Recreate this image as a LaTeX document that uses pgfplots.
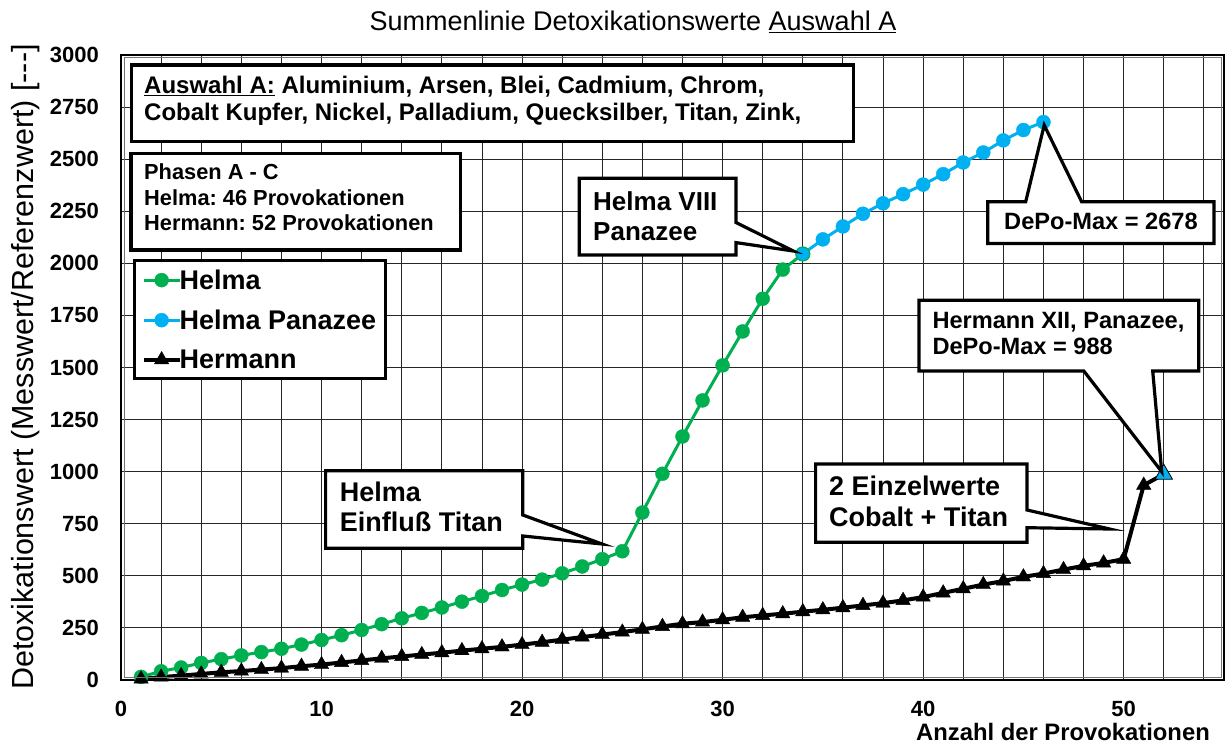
\documentclass[border=0pt]{standalone}
\usepackage{fontspec}
\setmainfont{Liberation Sans}
\usepackage{pgfplots}
\usepackage{pgfplotstable}
\pgfplotsset{compat=1.18}
\definecolor{hgreen}{HTML}{00B050}
\definecolor{hblue}{HTML}{00B0F0}
\frenchspacing

\pgfplotstableread{
x y
1 15
2 42
3 60
4 82
5 100
6 118
7 134
8 150
9 170
10 192
11 215
12 240
13 268
14 296
15 322
16 348
17 376
18 403
19 432
20 458
21 482
22 512
23 545
24 580
25 618
26 804
27 990
28 1169
29 1342
30 1510
31 1673
32 1830
33 1970
34 2045
}\helma

\pgfplotstableread{
x y
34 2045
35 2115
36 2177
37 2238
38 2288
39 2332
40 2378
41 2428
42 2484
43 2532
44 2590
45 2640
46 2678
}\panazee

\pgfplotstableread{
x y
1 5
2 14
3 21
4 29
5 37
6 43
7 50
8 57
9 66
10 74
11 84
12 94
13 104
14 113
15 122
16 131
17 141
18 150
19 159
20 170
21 181
22 194
23 206
24 218
25 230
26 243
27 257
28 270
29 278
30 289
31 301
32 310
33 318
34 328
35 337
36 347
37 358
38 369
39 382
40 398
41 418
42 438
43 458
44 475
45 495
46 511
47 530
48 548
49 562
50 580
51 935
52 988
}\hermann

\begin{document}
\begin{tikzpicture}[x=1pt,y=1pt]
\useasboundingbox (0,0) rectangle (1225,745);
\begin{axis}[
  at={(121pt,65pt)}, anchor=south west,
  width=1103pt, height=625pt, scale only axis,
  xmin=0, xmax=55, ymin=0, ymax=3000,
  xtick={0,10,...,50}, minor xtick={2,4,...,54},
  ytick={0,250,...,3000},
  grid=both,
  major grid style={black!85, line width=0.9pt},
  minor grid style={black!85, line width=0.9pt},
  major tick length=0pt, minor tick length=0pt,
  axis line style={line width=1.6pt},
  /pgf/number format/assume math mode=true,
  /pgf/number format/1000 sep={},
  tick label style={font=\fontsize{22}{26}\selectfont\bfseries},
  yticklabel style={anchor=east, inner sep=0pt, xshift=-22pt},
  xticklabel style={anchor=north, inner sep=0pt, yshift=-21pt},
  clip=false,
  legend cell align=left,
  legend image code/.code={\draw[mark repeat=2,mark phase=2] plot coordinates {(0pt,0pt)(18pt,0pt)(36pt,0pt)};},
  legend style={at={(0.0109,0.6736)}, anchor=north west, draw=black, line width=3.2pt,
    font=\fontsize{27}{30}\selectfont\bfseries, inner xsep=7pt, inner ysep=7pt,
    row sep=15pt, /tikz/every odd column/.append style={column sep=-4pt}},
]
\addplot[hgreen, line width=3pt, mark=*, mark size=7pt, mark options={draw=hgreen, fill=hgreen, line width=0.4pt}] table[x=x,y=y] {\helma};
\addlegendentry{Helma}
\addplot[hblue, line width=3pt, mark=*, mark size=7pt, mark options={draw=hblue, fill=hblue, line width=0.4pt}] table[x=x,y=y] {\panazee};
\addlegendentry{Helma Panazee}
\addplot[black, line width=4pt, mark=triangle*, mark size=8.3pt, mark options={fill=black, line width=0.4pt}] table[x=x,y=y] {\hermann};
\addlegendentry{Hermann}
\addplot[only marks, mark=*, mark size=7pt, mark options={draw=hgreen, fill=hblue, line width=1.2pt}, forget plot] coordinates {(34,2045)};
\addplot[only marks, mark=triangle*, mark size=10pt, mark options={draw=black, fill=hblue, line width=0.8pt}, forget plot] coordinates {(52,988)};
\end{axis}

\begin{scope}[x=1pt, y=-1pt, yshift=745pt, line join=miter]
% inner frame line
\draw[black!55, line width=1pt] (124,58) rectangle (1221,677);
% title
\node[anchor=base, font=\fontsize{27}{30}\selectfont] at (633,31) {Summenlinie Detoxikationswerte \underline{Auswahl A}};
% y label
\node[rotate=90, anchor=base, font=\fontsize{30.5}{33}\selectfont] at (33,367) {Detoxikationswert (Messwert/Referenzwert) [-{}-{}-]};
% x label
\node[anchor=base east, font=\fontsize{23.8}{27}\selectfont\bfseries, inner sep=0pt] at (1210,740) {Anzahl der Provokationen};

% box 1
\draw[line width=3.2pt, fill=white] (131.7,65) rectangle (853.5,141.7);
\node[anchor=base west, inner sep=0pt, font=\fontsize{24}{28}\selectfont\bfseries] at (144,93.3) {\underline{Auswahl A:} Aluminium, Arsen, Blei, Cadmium, Chrom,};
\node[anchor=base west, inner sep=0pt, font=\fontsize{24}{28}\selectfont\bfseries] at (144,121) {Cobalt Kupfer, Nickel, Palladium, Quecksilber, Titan, Zink,};

% box 2
\draw[line width=3.2pt, fill=white] (131,153.3) rectangle (460.7,250);
\node[anchor=base west, inner sep=0pt, font=\fontsize{21.8}{24}\selectfont\bfseries] at (144,179.3) {Phasen A - C};
\node[anchor=base west, inner sep=0pt, font=\fontsize{21.8}{24}\selectfont\bfseries] at (144,205.7) {Helma: 46 Provokationen};
\node[anchor=base west, inner sep=0pt, font=\fontsize{21.8}{24}\selectfont\bfseries] at (144,231) {Hermann: 52 Provokationen};

% Helma Einfluss Titan
\draw[line width=3.2pt, fill=white] (325.6,470.7) -- (522.8,470.7) -- (522.8,515) -- (602,544) -- (522.8,536) -- (522.8,548.3) -- (325.6,548.3) -- cycle;
\node[anchor=base west, inner sep=0pt, font=\fontsize{27}{30}\selectfont\bfseries] at (339.6,501.7) {Helma};
\node[anchor=base west, inner sep=0pt, font=\fontsize{27}{30}\selectfont\bfseries] at (339.6,531.7) {Einfluß Titan};

% Helma VIII Panazee
\draw[line width=3.2pt, fill=white] (579.3,178.2) -- (736,178.2) -- (736,222.5) -- (793.2,251) -- (736,242.6) -- (736,255) -- (579.3,255) -- cycle;
\node[anchor=base west, inner sep=0pt, font=\fontsize{26}{30}\selectfont\bfseries] at (593,210.7) {Helma VIII};
\node[anchor=base west, inner sep=0pt, font=\fontsize{26}{30}\selectfont\bfseries] at (593,241) {Panazee};

% DePo-Max 2678
\draw[line width=3.2pt, fill=white] (987.8,201.7) -- (1025.7,201.7) -- (1044.2,125.2) -- (1081.6,201.7) -- (1214,201.7) -- (1214,243.6) -- (987.8,243.6) -- cycle;
\node[anchor=base west, inner sep=0pt, font=\fontsize{23.6}{26}\selectfont\bfseries] at (1004,229.2) {DePo-Max = 2678};

% Hermann XII
\draw[line width=3.2pt, fill=white] (919,300.3) -- (1198.7,300.3) -- (1198.7,371) -- (1152.7,371) -- (1161.7,471.7) -- (1083.8,371) -- (919,371) -- cycle;
\node[anchor=base west, inner sep=0pt, font=\fontsize{23.6}{26}\selectfont\bfseries] at (932.3,328.2) {Hermann XII, Panazee,};
\node[anchor=base west, inner sep=0pt, font=\fontsize{23.6}{26}\selectfont\bfseries] at (932.3,355) {DePo-Max = 988};

% 2 Einzelwerte
\draw[line width=3.2pt, fill=white] (815.6,464) -- (1027,464) -- (1027,510) -- (1109.6,529) -- (1027,527.7) -- (1027,542.3) -- (815.6,542.3) -- cycle;
\node[anchor=base west, inner sep=0pt, font=\fontsize{27}{30}\selectfont\bfseries] at (829,495) {2 Einzelwerte};
\node[anchor=base west, inner sep=0pt, font=\fontsize{27}{30}\selectfont\bfseries] at (829,526) {Cobalt + Titan};
\end{scope}
\end{tikzpicture}
\end{document}
